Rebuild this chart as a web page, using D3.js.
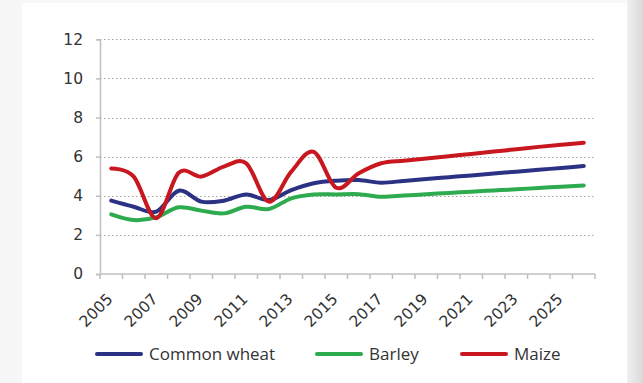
<!DOCTYPE html>
<html>
<head>
<meta charset="utf-8">
<script src="https://cdn.jsdelivr.net/npm/d3@7/dist/d3.min.js"></script>
<style>
  html, body { margin: 0; padding: 0; background: #fff; }
  svg { display: block; }
</style>
</head>
<body>
<svg id="chart" width="643" height="383"></svg>
<script>
// Marketing years shown on the horizontal axis
const years = [2005, 2006, 2007, 2008, 2009, 2010, 2011, 2012, 2013, 2014, 2015,
               2016, 2017, 2018, 2019, 2020, 2021, 2022, 2023, 2024, 2025, 2026];
const yearLabels = [2005, 2007, 2009, 2011, 2013, 2015, 2017, 2019, 2021, 2023, 2025];
const yTicks = [0, 2, 4, 6, 8, 10, 12];

// Yields (t/ha)
const commonWheat = [3.75, 3.44, 3.19, 4.26, 3.70, 3.75, 4.07, 3.78, 4.29, 4.64, 4.77,
                     4.80, 4.67, 4.76, 4.86, 4.95, 5.04, 5.14, 5.23, 5.33, 5.42, 5.52];
const barley      = [3.05, 2.76, 2.90, 3.41, 3.24, 3.10, 3.44, 3.32, 3.87, 4.07, 4.07,
                     4.08, 3.95, 4.01, 4.08, 4.14, 4.21, 4.27, 4.33, 4.40, 4.46, 4.53];
const maize       = [5.40, 4.98, 2.85, 5.18, 4.98, 5.49, 5.66, 3.70, 5.23, 6.25, 4.41,
                     5.15, 5.66, 5.79, 5.90, 6.02, 6.14, 6.26, 6.38, 6.50, 6.61, 6.71];

const seriesNames = ["Common wheat", "Barley", "Maize"];
const seriesColors = ["#2b3183", "#2eaa4f", "#c8171e"];
const seriesValues = [commonWheat, barley, maize];

const svg = d3.select("#chart");
const W = 643, H = 383;

// Page background and card
const defs = svg.append("defs");
const grad = defs.append("linearGradient").attr("id", "edge").attr("x1", 0).attr("x2", 1);
grad.append("stop").attr("offset", 0).attr("stop-color", "#f0f0f0");
grad.append("stop").attr("offset", 1).attr("stop-color", "#d9d9d9");
svg.append("rect").attr("width", W).attr("height", H).attr("fill", "#f7f7f7");
svg.append("rect").attr("x", 627).attr("y", 0).attr("width", 16).attr("height", H).attr("fill", "url(#edge)");
svg.append("rect").attr("x", 22).attr("y", 3).attr("width", 605).attr("height", H - 3).attr("fill", "#fff");

const plot = { left: 100, right: 595, top: 39.3, bottom: 274 };

const x = d3.scaleBand().domain(years).range([plot.left, plot.right]);
const cx = d => x(d) + x.bandwidth() / 2;
const y = d3.scaleLinear().domain([0, 12]).range([plot.bottom, plot.top]);

// Dotted gridlines
svg.append("g")
  .selectAll("line")
  .data(yTicks.filter(v => v > 0))
  .join("line")
  .attr("x1", plot.left).attr("x2", plot.right)
  .attr("y1", d => Math.round(y(d)) + 0.5).attr("y2", d => Math.round(y(d)) + 0.5)
  .attr("stroke", "#a6a6a6")
  .attr("stroke-width", 1)
  .attr("stroke-dasharray", "1.5,2.5");

const axisColor = "#bfbfbf";
const textColor = "#333";
const axisFont = "'DejaVu Sans', sans-serif";
const legendFont = "'Open Sans', sans-serif";

// Y axis
const yAxis = svg.append("g")
  .attr("transform", `translate(${plot.left},0)`)
  .call(d3.axisLeft(y).tickValues(yTicks).tickSize(4).tickPadding(13));
yAxis.select(".domain").attr("stroke", axisColor).attr("stroke-width", 1.5);
yAxis.selectAll(".tick line").attr("stroke", axisColor).attr("stroke-width", 1.5);
yAxis.selectAll(".tick text")
  .attr("fill", textColor).style("font-family", axisFont).style("font-size", "15.5px");

// X axis: tick marks sit on the band boundaries
const xAxis = svg.append("g").attr("transform", `translate(0,${plot.bottom})`);
xAxis.append("line")
  .attr("x1", plot.left).attr("x2", plot.right)
  .attr("stroke", axisColor).attr("stroke-width", 1.5);
xAxis.selectAll("line.tk")
  .data(years.concat([null]))
  .join("line")
  .attr("class", "tk")
  .attr("x1", (d, i) => plot.left + i * x.step())
  .attr("x2", (d, i) => plot.left + i * x.step())
  .attr("y1", 0).attr("y2", 5)
  .attr("stroke", axisColor).attr("stroke-width", 1.5);

xAxis.selectAll("text")
  .data(yearLabels)
  .join("text")
  .attr("transform", d => `translate(${cx(d) + 2.5},${26}) rotate(-45)`)
  .attr("text-anchor", "end")
  .attr("fill", textColor)
  .style("font-family", axisFont)
  .style("font-size", "15.5px")
  .text(d => d);

// Series lines
const line = d3.line()
  .x((d, i) => cx(years[i]))
  .y(d => y(d))
  .curve(d3.curveCatmullRom.alpha(0));

svg.append("g")
  .selectAll("path")
  .data(seriesValues)
  .join("path")
  .attr("d", d => line(d))
  .attr("fill", "none")
  .attr("stroke", (d, i) => seriesColors[i])
  .attr("stroke-width", 4)
  .attr("stroke-linecap", "round")
  .attr("stroke-linejoin", "round");

// Legend
const legendX = [97, 317, 462];
const legend = svg.append("g")
  .selectAll("g")
  .data(seriesNames)
  .join("g")
  .attr("transform", (d, i) => `translate(${legendX[i]},354)`);
legend.append("line")
  .attr("x1", 0).attr("x2", 44)
  .attr("stroke", (d, i) => seriesColors[i])
  .attr("stroke-width", 4)
  .attr("stroke-linecap", "round");
legend.append("text")
  .attr("x", 52).attr("dy", "0.36em")
  .attr("fill", textColor)
  .style("font-family", legendFont)
  .style("font-size", "17px")
  .text(d => d);
</script>
</body>
</html>
